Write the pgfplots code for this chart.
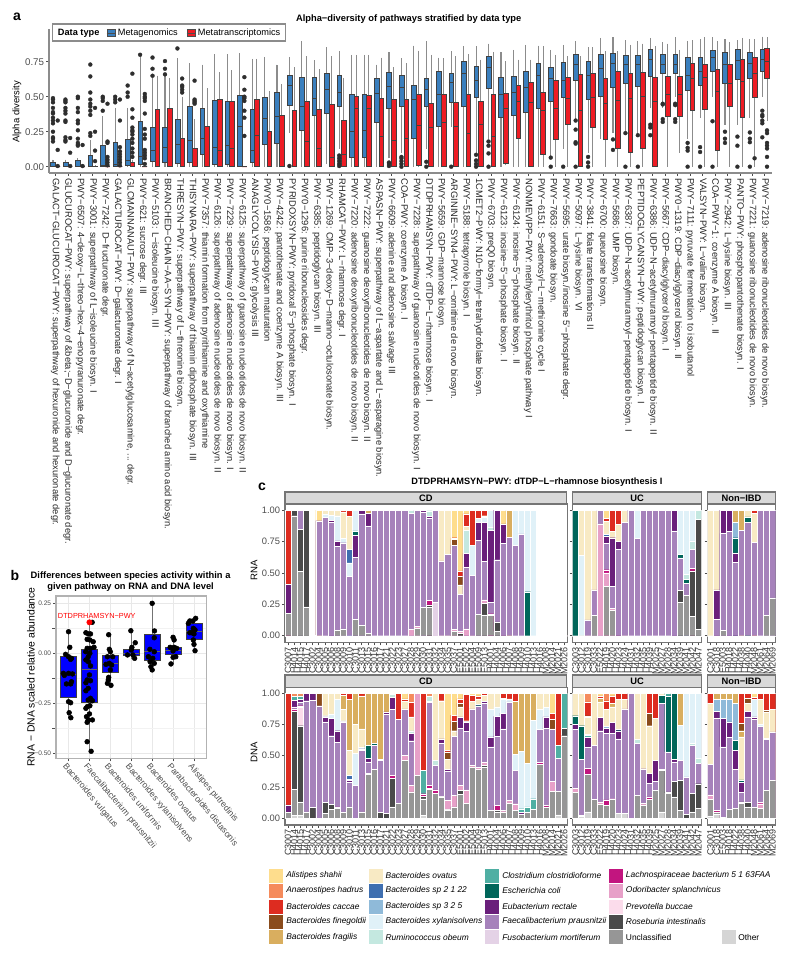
\documentclass[border=0pt]{standalone}
\usepackage{fontspec}
\setmainfont{Liberation Sans}
\usepackage{pgfplots}
\usepackage{pgfplotstable}
\pgfplotsset{compat=1.18}
\usepgfplotslibrary{statistics}
\newcommand\fs[1]{\fontsize{#1}{#1}\selectfont}
\definecolor{mg}{HTML}{3A7FBE}\definecolor{mt}{HTML}{ED1C24}
\definecolor{wh}{HTML}{8C8C8C}\definecolor{tk}{HTML}{4D4D4D}\definecolor{fr}{HTML}{757575}\definecolor{dot}{HTML}{2E2E2E}
% species, in stack order from the top: 1 A.shahii 2 Anaerostipes 3 caccae 4 finegoldii 5 fragilis 6 ovatus 7 sp2122 8 sp325 9 xylanisolvens 10 obeum 11 Clostridium 12 E.coli 13 Eubacterium 14 Faecalibacterium 15 Fusobacterium 16 Lachno 17 Odoribacter 18 Prevotella 19 Roseburia 20 Unclassified 21 Other
\definecolor{sp1}{HTML}{FEDD8D}\definecolor{sp2}{HTML}{F58B5C}\definecolor{sp3}{HTML}{DD2C20}\definecolor{sp4}{HTML}{8A4B1C}
\definecolor{sp5}{HTML}{D9AE5F}\definecolor{sp6}{HTML}{F8EAC4}\definecolor{sp7}{HTML}{3F6FB0}\definecolor{sp8}{HTML}{8FBAD9}
\definecolor{sp9}{HTML}{E0F1F8}\definecolor{sp10}{HTML}{C4E8E0}\definecolor{sp11}{HTML}{4FAFA3}\definecolor{sp12}{HTML}{00665A}
\definecolor{sp13}{HTML}{6A1F7B}\definecolor{sp14}{HTML}{A682BB}\definecolor{sp15}{HTML}{E4D2E6}\definecolor{sp16}{HTML}{C2157F}
\definecolor{sp17}{HTML}{E7A0C8}\definecolor{sp18}{HTML}{FBDCEB}\definecolor{sp19}{HTML}{4A4A4A}\definecolor{sp20}{HTML}{969696}\definecolor{sp21}{HTML}{D5D5D5}
\pgfplotsset{
 seg/.style={ybar,bar width=1,bar shift=0pt,draw=white,line width=.25pt},
 fac/.style={anchor=south west,scale only axis,ymin=-.056,ymax=1.048,axis line style={draw=fr,line width=.9pt},
   tick style={draw=tk,line width=.4pt},major tick length=2pt,tick align=outside,xtick pos=bottom,ytick pos=left,
   ytick={0,.25,.5,.75,1},yticklabels={0.00,0.25,0.50,0.75,1.00},
   yticklabel style={font=\fs{7},text=tk,inner sep=1.5pt},
   xticklabel style={rotate=90,anchor=east,font=\fs{6.8},text=black!80,inner sep=1pt}},
 cdl/.style={xtick={1,...,46},xticklabels={C3007,H4014,H4015,H4017,C3002,C3004,C3005,C3006,C3008,C3009,C3010,C3011,C3013,C3015,C3016,C3017,C3021,C3022,C3023,C3027,C3028,C3029,C3030,C3031,C3032,C3034,C3035,C3037,E5001,E5002,E5004,E5009,E5013,H4001,H4004,H4006,H4007,H4008,H4009,H4010,H4013,H4016,M2008,M2014,M2021,M2026}},
 ucl/.style={xtick={1,...,21},xticklabels={C3003,C3012,C3019,C3033,E5022,H4019,H4020,H4023,H4024,H4031,H4032,H4035,H4039,M2025,M2027,M2028,M2034,M2039,M2041,M2042,M2047}},
 nil/.style={xtick={1,...,11},xticklabels={C3001,C3018,E5003,H4018,H4022,H4038,H4040,M2048,M2061,M2064,M2069}}
}
\newcommand\segs[1]{\pgfplotsinvokeforeach{1,...,21}{\addplot[seg,fill=sp##1,restrict expr to domain={\thisrow{n}}{##1:##1}] table[x=i,y=t] {#1};}}
\newcommand\bx[7]{\addplot[fill=#7,draw=black!75,line width=.35pt,boxplot prepared={draw position=#1,lower whisker=#2,lower quartile=#3,median=#4,upper quartile=#5,upper whisker=#6}] coordinates {};}
\newcommand\B[6]{\bx{#1}{#2}{#3}{#4}{#5}{#6}{mg}}
\newcommand\R[6]{\bx{#1}{#2}{#3}{#4}{#5}{#6}{mt}}
\pgfplotstableread[row sep=\\]{c v\\
1 .18\\1 .2\\1 .21\\1 .25\\1 .31\\1 .33\\1 .35\\1 .38\\1 .39\\1 .42\\1 .46\\1 .48\\1 .49\\
2 .18\\2 .19\\2 .21\\2 .32\\2 .33\\2 .38\\2 .40\\2 .42\\2 .46\\2 .47\\2 .48\\
3 .15\\3 .16\\3 .17\\3 .2\\3 .26\\3 .31\\3 .33\\3 .39\\3 .42\\3 .49\\3 .5\\
4 .22\\4 .24\\4 .37\\4 .4\\4 .43\\4 .45\\4 .48\\4 .53\\4 .645\\4 .73\\
5 .4\\5 .47\\5 .49\\5 .5\\6 .46\\6 .48\\6 .5\\7 .5\\7 .53\\7 .58\\8 .8\\
9 .65\\9 .7\\9 .78\\10 .66\\10 .7\\10 .755\\11 .845\\20 .005\\
24 .005\\24 .02\\24 .04\\24 .06\\24 .08\\28 .005\\28 .02\\28 .03\\
29 .0\\29 .02\\29 .04\\29 .06\\29 .07\\31 .0\\31 .035\\33 .0\\
35 .0\\35 .02\\35 .045\\35 .085\\36 .0\\36 .095\\36 .15\\36 .18\\
41 .0\\41 .065\\42 .0\\43 .0\\43 .165\\43 .175\\43 .265\\43 .33\\44 .0\\44 .03\\44 .07\\
46 .12\\46 .195\\47 .0\\47 .24\\48 .0\\48 .225\\49 .225\\49 .28\\49 .3\\
50 .32\\50 .34\\50 .445\\50 .45\\51 .32\\51 .34\\51 .44\\51 .45\\
52 .0\\52 .115\\52 .135\\52 .17\\53 .0\\53 .105\\53 .14\\54 .0\\54 .325\\
55 .17\\55 .2\\55 .25\\56 .0\\56 .15\\56 .215\\57 .0\\57 .175\\57 .2\\57 .245\\
58 .21\\58 .31\\58 .33\\58 .36\\58 .37\\58 .4\\}\outB
\pgfplotstableread[row sep=\\]{c v\\
1 .005\\1 .12\\1 .33\\2 .005\\2 .10\\2 .205\\3 .005\\3 .155\\4 .04\\4 .115\\4 .25\\4 .42\\
5 .01\\5 .03\\5 .05\\5 .07\\5 .17\\5 .18\\5 .45\\6 .01\\6 .03\\6 .05\\6 .07\\6 .09\\6 .11\\6 .14\\6 .33\\6 .48\\
7 .07\\7 .1\\7 .13\\7 .17\\7 .2\\7 .23\\7 .25\\7 .26\\7 .28\\7 .35\\7 .41\\7 .665\\
8 .02\\8 .06\\8 .08\\8 .1\\8 .12\\8 .2\\8 .23\\8 .27\\8 .38\\8 .47\\8 .49\\8 .5\\8 .52\\
11 .53\\11 .55\\11 .57\\11 .58\\11 .63\\12 .45\\12 .46\\12 .47\\12 .48\\12 .615\\
16 .22\\16 .35\\16 .4\\16 .47\\16 .49\\16 .5\\16 .55\\16 .64\\57 .06\\
58 .0\\58 .07\\58 .13\\58 .15\\58 .17\\58 .24\\58 .26\\}\outR
% ---- panel c tables: sample i, species n, top t of the species' segment in the stack
\pgfplotstableread[row sep=\\]{i n t\\
1 20 .18\\1 13 .41\\1 3 1\\2 20 .955\\2 19 1\\3 20 .51\\3 19 .845\\3 14 1\\4 20 .23\\4 19 1\\5 17 .005\\
6 14 .915\\6 1 1\\7 14 .94\\7 9 .97\\7 6 1\\8 14 .9\\8 13 .92\\8 9 .96\\8 6 1\\
9 20 .04\\9 14 .71\\9 13 .755\\9 9 .955\\9 6 1\\10 20 .055\\10 14 .74\\10 9 .775\\10 6 .985\\10 3 1\\
11 14 .47\\11 9 .58\\11 7 .69\\11 6 .95\\11 3 1\\12 20 .13\\12 14 .625\\12 13 .8\\12 12 .835\\12 9 1\\
13 20 .08\\13 14 .97\\13 13 1\\14 20 .02\\14 14 .875\\14 13 .975\\14 5 1\\
15 14 1\\16 14 1\\17 14 1\\18 14 1\\19 14 1\\20 14 1\\
21 17 .05\\21 14 .975\\21 10 1\\22 20 .06\\22 17 .075\\22 14 1\\23 20 .225\\23 14 .985\\23 13 1\\
24 20 .225\\24 19 .245\\24 16 .28\\24 14 .935\\24 13 .95\\24 10 .995\\24 2 1\\25 15 .265\\25 14 1\\
26 14 .595\\26 6 1\\27 14 .65\\27 6 1\\28 20 .035\\28 17 .05\\28 14 .72\\28 4 .765\\28 3 .78\\28 1 1\\
29 19 .02\\29 17 .035\\29 14 .33\\29 6 .405\\29 4 .47\\29 3 .515\\29 1 1\\
30 17 .055\\30 14 .545\\30 13 .655\\30 10 .84\\30 6 .87\\30 3 .97\\30 1 1\\31 14 .48\\31 9 .72\\31 3 1\\
32 20 .17\\32 14 .76\\32 13 .9\\32 9 .935\\32 3 1\\33 20 .165\\33 19 .26\\33 17 .285\\33 14 .59\\33 13 .9\\33 9 .94\\33 6 .955\\33 3 1\\
34 20 .16\\34 16 .175\\34 14 .265\\34 13 .84\\34 10 .86\\34 9 1\\35 20 .035\\35 19 .11\\35 14 .605\\35 13 1\\
36 14 .735\\36 13 .89\\36 1 1\\37 14 .785\\37 5 1\\38 14 .72\\38 9 1\\39 14 .81\\39 9 1\\40 12 .35\\40 9 1\\41 9 1\\
42 17 .005\\43 17 .005\\44 17 .005\\45 17 .005\\46 17 .005\\}\tRC
\pgfplotstableread[row sep=\\]{i n t\\
1 12 1\\2 9 .64\\2 6 1\\3 14 .125\\3 6 1\\4 20 .16\\4 14 .365\\4 6 1\\5 17 .89\\5 14 1\\
6 20 .395\\6 17 .5\\6 16 .525\\6 14 .735\\6 13 .79\\6 7 .81\\6 6 .91\\6 3 .935\\6 1 1\\
7 20 .2\\7 17 .22\\7 14 .395\\7 13 .78\\7 6 .83\\7 3 1\\8 14 .69\\8 13 .75\\8 6 .885\\8 3 1\\
9 14 .905\\9 6 1\\10 14 1\\11 14 .775\\11 9 1\\12 14 1\\13 14 1\\14 14 1\\15 14 1\\16 14 1\\17 14 .835\\17 13 1\\
18 20 .265\\18 19 .36\\18 14 .62\\18 12 .65\\18 9 1\\19 20 .32\\19 14 .415\\19 12 .45\\19 10 .49\\19 9 1\\
20 20 .155\\20 19 .515\\20 16 .535\\20 14 .69\\20 10 .755\\20 9 1\\21 20 .05\\21 19 .925\\21 10 1\\}\tRU
\pgfplotstableread[row sep=\\]{i n t\\
1 6 1\\2 14 .13\\2 13 .365\\2 6 1\\3 20 .04\\3 14 .815\\3 13 1\\4 14 .83\\4 13 1\\
5 14 .585\\5 13 .66\\5 12 .78\\5 8 .9\\5 5 1\\6 14 .84\\6 5 1\\7 14 .9\\7 12 .945\\7 6 1\\
8 14 .745\\8 6 .975\\8 3 1\\9 14 1\\10 20 .16\\10 14 1\\11 20 .3\\11 14 1\\}\tRN
\pgfplotstableread[row sep=\\]{i n t\\
1 20 .045\\1 13 .105\\1 3 1\\2 21 .02\\2 20 .23\\2 19 .855\\2 16 .875\\2 14 .89\\2 13 .945\\2 11 .975\\2 2 1\\
3 21 .02\\3 20 .13\\3 19 .74\\3 18 .89\\3 16 .9\\3 14 .93\\3 13 .95\\3 11 .98\\3 2 1\\4 20 .05\\4 14 .94\\4 13 1\\
5 19 .085\\5 14 .945\\5 13 1\\6 14 .9\\6 4 1\\7 20 .04\\7 19 .125\\7 14 .77\\7 13 .81\\7 9 .82\\7 6 1\\
8 20 .07\\8 19 .11\\8 14 .66\\8 13 .8\\8 9 .835\\8 6 1\\9 20 .08\\9 16 .09\\9 14 .605\\9 13 .7\\9 9 .95\\9 6 1\\
10 20 .05\\10 14 .77\\10 9 .78\\10 6 .87\\10 5 .985\\10 3 1\\11 20 .09\\11 14 .285\\11 13 .3\\11 9 .31\\11 7 .34\\11 6 .54\\11 5 .95\\11 3 1\\
12 14 .26\\12 9 .52\\12 6 .75\\12 5 1\\13 20 .05\\13 14 .54\\13 13 .555\\13 9 .565\\13 6 .715\\13 5 .98\\13 3 1\\
14 20 .35\\14 16 .36\\14 14 .45\\14 13 .48\\14 12 .585\\14 5 1\\15 20 .39\\15 14 .585\\15 12 .6\\15 5 1\\
16 19 .045\\16 14 .46\\16 13 .47\\16 5 1\\17 19 .04\\17 14 .83\\17 13 .85\\17 5 1\\
18 20 .09\\18 19 .32\\18 16 .34\\18 14 .87\\18 13 .965\\18 10 .99\\18 9 1\\19 20 .12\\19 14 .79\\19 3 1\\
20 20 .46\\20 17 .5\\20 14 .875\\20 6 .935\\20 3 .955\\20 1 1\\21 20 .21\\21 17 .26\\21 14 .62\\21 13 .68\\21 10 .7\\21 6 .81\\21 3 .925\\21 2 1\\
22 20 .34\\22 17 1\\23 21 .02\\23 20 .155\\23 19 .175\\23 16 .195\\23 11 .38\\23 3 1\\
24 20 .23\\24 19 .24\\24 16 .26\\24 14 .925\\24 12 .935\\24 10 .975\\24 2 1\\25 20 .2\\25 16 .225\\25 14 .42\\25 10 .46\\25 6 1\\
26 20 .17\\26 16 .175\\26 14 .6\\26 13 .635\\26 6 .94\\26 3 1\\27 20 .065\\27 19 .07\\27 17 .14\\27 14 .375\\27 13 .39\\27 6 .47\\27 4 .53\\27 3 .54\\27 1 1\\
28 20 .09\\28 17 .18\\28 14 .655\\28 6 .7\\28 4 .775\\28 3 .825\\28 1 1\\29 20 .19\\29 19 .22\\29 17 .26\\29 14 .72\\29 13 .81\\29 6 .89\\29 4 .92\\29 3 .955\\29 1 1\\
30 20 .12\\30 17 .225\\30 14 .695\\30 13 .77\\30 6 .78\\30 3 .99\\30 1 1\\31 20 .41\\31 17 .42\\31 14 .875\\31 6 .935\\31 3 .985\\31 1 1\\
32 20 .39\\32 17 .405\\32 14 .9\\32 12 .91\\32 6 .955\\32 3 .98\\32 1 1\\33 20 .41\\33 19 .425\\33 17 .445\\33 14 .92\\33 13 .935\\33 6 .985\\33 3 1\\
34 20 .06\\34 14 .57\\34 13 .65\\34 9 .87\\34 6 1\\35 20 .05\\35 19 .06\\35 16 .1\\35 14 .655\\35 13 .815\\35 9 .89\\35 6 1\\
36 20 .05\\36 17 .06\\36 14 .715\\36 13 .84\\36 9 .95\\36 6 .96\\36 3 1\\37 20 .12\\37 17 .14\\37 14 .93\\37 9 .955\\37 3 1\\
38 20 .06\\38 17 .115\\38 14 .38\\38 9 .51\\38 5 .935\\38 3 1\\39 20 .03\\39 13 .045\\39 11 .075\\39 9 .535\\39 5 1\\
40 20 .05\\40 11 .09\\40 9 .44\\40 5 1\\41 20 .07\\41 11 .155\\41 9 .785\\41 5 1\\42 20 .43\\42 16 .445\\42 14 .71\\42 9 .87\\42 6 1\\
43 20 .09\\43 16 .1\\43 14 .72\\43 13 .81\\43 9 .885\\43 6 1\\44 20 .215\\44 17 .295\\44 14 .715\\44 4 .79\\44 3 .84\\44 1 1\\
45 21 .025\\45 20 .215\\45 14 .48\\45 11 .58\\45 3 1\\46 20 .66\\46 19 .72\\46 11 1\\}\tDC
\pgfplotstableread[row sep=\\]{i n t\\
1 20 .205\\1 17 .24\\1 14 .71\\1 13 .75\\1 12 .82\\1 6 1\\2 21 .015\\2 20 .02\\2 14 .47\\2 12 .74\\2 6 1\\
3 21 .05\\3 20 .35\\3 16 .4\\3 14 .565\\3 13 .645\\3 11 .665\\3 9 .67\\3 6 .81\\3 4 .82\\3 3 .93\\3 2 1\\4 20 .15\\4 14 .58\\4 6 1\\
5 20 .11\\5 17 .13\\5 14 .7\\5 13 .805\\5 6 .93\\5 5 .96\\5 3 .98\\5 1 1\\6 20 .1\\6 16 .145\\6 14 .68\\6 13 .72\\6 8 .74\\6 6 .87\\6 3 .94\\6 2 1\\
7 20 .15\\7 17 .155\\7 14 .68\\7 13 .765\\7 6 .89\\7 5 .92\\7 3 .98\\7 1 1\\8 21 .04\\8 14 .635\\8 13 .7\\8 12 .71\\8 6 .95\\8 3 1\\
9 21 .04\\9 14 .875\\9 6 .95\\9 3 1\\10 14 1\\11 20 .18\\11 14 .6\\11 10 .63\\11 6 1\\12 20 .105\\12 17 .12\\12 14 .395\\12 6 1\\
13 20 .15\\13 16 .17\\13 14 .28\\13 13 .36\\13 6 .74\\13 4 .84\\13 3 1\\14 20 .22\\14 14 .295\\14 13 .465\\14 6 .8\\14 3 1\\
15 21 .05\\15 20 .38\\15 19 .39\\15 14 .92\\15 12 .985\\15 6 1\\16 20 .2\\16 19 .21\\16 14 .53\\16 12 .98\\16 11 1\\
17 20 .17\\17 19 .295\\17 14 .45\\17 13 .47\\17 12 1\\18 20 .06\\18 19 .3\\18 14 .46\\18 9 .745\\18 5 1\\
19 19 .03\\19 14 .33\\19 9 1\\20 20 .05\\20 19 .2\\20 14 .58\\20 10 .6\\20 9 1\\21 20 .08\\21 19 .275\\21 14 .44\\21 10 .48\\21 9 1\\}\tDU
\pgfplotstableread[row sep=\\]{i n t\\
1 21 .015\\1 20 .15\\1 17 .185\\1 14 .43\\1 6 .92\\1 3 1\\2 21 .03\\2 20 .05\\2 16 .06\\2 14 .8\\2 13 .855\\2 8 .95\\2 5 1\\
3 16 .005\\3 14 .57\\3 13 .8\\3 8 .95\\3 5 1\\4 20 .07\\4 14 .645\\4 13 .77\\4 8 .95\\4 5 1\\
5 20 .08\\5 14 .39\\5 13 .54\\5 12 .625\\5 8 .92\\5 5 1\\6 20 .12\\6 19 .13\\6 14 .205\\6 13 .285\\6 12 .305\\6 6 .65\\6 5 .7\\6 4 .76\\6 3 1\\
7 20 .09\\7 19 .125\\7 14 .81\\7 13 .855\\7 6 .92\\7 4 .96\\7 3 1\\8 20 .09\\8 14 .79\\8 13 .81\\8 9 .95\\8 3 .97\\8 1 1\\
9 20 .08\\9 17 .115\\9 16 .125\\9 14 .735\\9 9 .75\\9 6 .95\\9 3 1\\10 20 .22\\10 14 .63\\10 13 .64\\10 6 .85\\10 4 .865\\10 3 1\\
11 20 .3\\11 14 .69\\11 6 .87\\11 3 1\\}\tDN
\begin{document}
\begin{tikzpicture}
\useasboundingbox (0,0) rectangle (600pt,-716.25pt);
% ================= panel a
\begin{axis}[at={(49*.75pt,-173*.75pt)},anchor=south west,scale only axis,width=542.25pt,height=108pt,
 xmin=.49,xmax=58.59,ymin=-.045,ymax=.984,
 axis x line*=bottom,axis y line*=left,axis line style={draw=wh,line width=.9pt,-},
 tick style={draw=tk,line width=.4pt},major tick length=2pt,tick align=outside,
 ytick={0,.25,.5,.75},yticklabels={0.00,0.25,0.50,0.75},yticklabel style={font=\fs{7.3},text=tk,inner sep=1.5pt},
 xtick={1,...,58},
 xticklabel style={rotate=-90,anchor=west,font=\fs{7},text=black!85,inner sep=0pt,xshift=2pt},
 xticklabels={{GALACT−GLUCUROCAT−PWY: superpathway of hexuronide and hexuronate degr.},{GLUCUROCAT−PWY: superpathway of \&beta;−D−glucuronide and D−glucuronate degr.},{PWY−6507: 4−deoxy−L−threo−hex−4−enopyranuronate degr.},{PWY−3001: superpathway of L−isoleucine biosyn. I},{PWY−7242: D−fructuronate degr.},{GALACTUROCAT−PWY: D−galacturonate degr. I},{GLCMANNANAUT−PWY: superpathway of N−acetylglucosamine, .{}.{}. degr.},{PWY−621: sucrose degr. III},{PWY−5103: L−isoleucine biosyn. III},{BRANCHED−CHAIN−AA−SYN−PWY: superpathway of branched amino acid biosyn.},{THRESYN−PWY: superpathway of L−threonine biosyn.},{THISYNARA−PWY: superpathway of thiamin diphosphate biosyn. III},{PWY−7357: thiamin formation from pyrithiamine and oxythiamine},{PWY−6126: superpathway of adenosine nucleotides de novo biosyn. II},{PWY−7229: superpathway of adenosine nucleotides de novo biosyn. I},{PWY−6125: superpathway of guanosine nucleotides de novo biosyn. II},{ANAGLYCOLYSIS−PWY: glycolysis III},{PWY0−1586: peptidoglycan maturation},{PWY−4242: pantothenate and coenzyme A biosyn. III},{PYRIDOXSYN−PWY: pyridoxal 5'−phosphate biosyn. I},{PWY0−1296: purine ribonucleosides degr.},{PWY−6385: peptidoglycan biosyn. III},{PWY−1269: CMP−3−deoxy−D−manno−octulosonate biosyn.},{RHAMCAT−PWY: L−rhamnose degr. I},{PWY−7220: adenosine deoxyribonucleotides de novo biosyn. II},{PWY−7222: guanosine deoxyribonucleotides de novo biosyn. II},{ASPASN−PWY: superpathway of L−aspartate and L−asparagine biosyn.},{PWY−6609: adenine and adenosine salvage III},{COA−PWY: coenzyme A biosyn. I},{PWY−7228: superpathway of guanosine nucleotides de novo biosyn. I},{DTDPRHAMSYN−PWY: dTDP−L−rhamnose biosyn. I},{PWY−5659: GDP−mannose biosyn.},{ARGININE−SYN4−PWY: L−ornithine de novo biosyn.},{PWY−5188: tetrapyrrole biosyn. I},{1CMET2−PWY: N10−formyl−tetrahydrofolate biosyn.},{PWY−6703: preQ0 biosyn.},{PWY−6123: inosine−5'−phosphate biosyn. I},{PWY−6124: inosine−5'−phosphate biosyn. II},{NONMEVIPP−PWY: methylerythritol phosphate pathway I},{PWY−6151: S−adenosyl−L−methionine cycle I},{PWY−7663: gondoate biosyn.},{PWY−5695: urate biosyn./inosine 5'−phosphate degr.},{PWY−5097: L−lysine biosyn. VI},{PWY−3841: folate transformations II},{PWY−6700: queuosine biosyn.},{PWY−5686: UMP biosyn.},{PWY−6387: UDP−N−acetylmuramoyl−pentapeptide biosyn. I},{PEPTIDOGLYCANSYN−PWY: peptidoglycan biosyn. I},{PWY−6386: UDP−N−acetylmuramoyl−pentapeptide biosyn. II},{PWY−5667: CDP−diacylglycerol biosyn. I},{PWY0−1319: CDP−diacylglycerol biosyn. II},{PWY−7111: pyruvate fermentation to isobutanol},{VALSYN−PWY: L−valine biosyn.},{COA−PWY−1: coenzyme A biosyn. II},{PWY−2942: L−lysine biosyn. III},{PANTO−PWY: phosphopantothenate biosyn. I},{PWY−7221: guanosine ribonucleotides de novo biosyn.},{PWY−7219: adenosine ribonucleotides de novo biosyn.}},
 boxplot/draw direction=y,boxplot/box extend=.375,boxplot/whisker extend=0,
 boxplot/every whisker/.style={draw=wh,line width=.8pt},boxplot/every median/.style={draw=black!75,line width=.5pt},
]
\addplot[only marks,mark=*,mark size=1.5pt,mark options={fill=dot,draw=dot,line width=.2pt}] table[x expr=\thisrow{c}-.19,y=v] {\outB};
\addplot[only marks,mark=*,mark size=1.5pt,mark options={fill=dot,draw=dot,line width=.2pt}] table[x expr=\thisrow{c}+.19,y=v] {\outR};
\B{0.81}{0}{0}{.005}{.03}{.05}\R{1.19}{0}{0}{0}{0}{0}
\B{1.81}{0}{0}{.005}{.03}{.05}\R{2.19}{0}{0}{0}{0}{0}
\B{2.81}{0}{0}{.005}{.045}{.06}\R{3.19}{0}{0}{0}{0}{0}
\B{3.81}{0}{0}{.005}{.085}{.19}\R{4.19}{0}{0}{0}{.005}{.01}
\B{4.81}{0}{0}{.01}{.155}{.36}\R{5.19}{0}{0}{0}{0}{0}
\B{5.81}{0}{0}{.02}{.175}{.42}\R{6.19}{0}{0}{0}{0}{0}
\B{6.81}{0}{.01}{.045}{.195}{.42}\R{7.19}{0}{0}{0}{.03}{.05}
\B{7.81}{0}{.02}{.075}{.325}{.8}\R{8.19}{0}{0}{0}{0}{0}
\B{8.81}{0}{.04}{.12}{.285}{.65}\R{9.19}{0}{0}{0}{.41}{.65}
\B{9.81}{0}{.035}{.14}{.285}{.66}\R{10.19}{0}{0}{0}{.42}{.635}
\B{10.81}{0}{.025}{.16}{.34}{.775}\R{11.19}{0}{0}{0}{.205}{.5}
\B{11.81}{0}{.035}{.19}{.43}{.74}\R{12.19}{0}{0}{0}{.135}{.34}
\B{12.81}{0}{.09}{.205}{.42}{.73}\R{13.19}{0}{0}{0}{.29}{.56}
\B{13.81}{0}{.02}{.14}{.475}{.805}\R{14.19}{0}{0}{.12}{.48}{.675}
\B{14.81}{0}{.02}{.15}{.47}{.805}\R{15.19}{0}{0}{.13}{.47}{.69}
\B{15.81}{0}{0}{.285}{.51}{.81}\R{16.19}{0}{0}{0}{0}{0}
\B{16.81}{0}{.03}{.115}{.41}{.77}\R{17.19}{0}{0}{.225}{.485}{.77}
\B{17.81}{0}{.16}{.345}{.495}{.785}\R{18.19}{0}{0}{0}{.25}{.54}
\B{18.81}{0}{.17}{.36}{.53}{.73}\R{19.19}{0}{0}{0}{.365}{.59}
\B{19.81}{.24}{.44}{.58}{.655}{.785}\R{20.19}{0}{0}{0}{.405}{.71}
\B{20.81}{0}{.26}{.43}{.64}{.895}\R{21.19}{0}{0}{.18}{.47}{.79}
\B{21.81}{0}{.37}{.49}{.64}{.76}\R{22.19}{0}{0}{.13}{.41}{.695}
\B{22.81}{.02}{.385}{.555}{.665}{.855}\R{23.19}{0}{0}{.07}{.45}{.79}
\B{23.81}{.13}{.43}{.535}{.655}{.825}\R{24.19}{0}{0}{.09}{.33}{.635}
\B{24.81}{0}{.07}{.255}{.515}{.8}\R{25.19}{0}{0}{.42}{.505}{.8}
\B{25.81}{0}{.07}{.26}{.515}{.8}\R{26.19}{0}{0}{.42}{.51}{.8}
\B{26.81}{0}{.32}{.525}{.63}{.73}\R{27.19}{0}{0}{.22}{.49}{.78}
\B{27.81}{.06}{.415}{.575}{.675}{.82}\R{28.19}{0}{0}{.185}{.485}{.71}
\B{28.81}{.1}{.435}{.57}{.655}{.775}\R{29.19}{0}{0}{.2}{.485}{.74}
\B{29.81}{0}{.205}{.48}{.58}{.865}\R{30.19}{0}{.01}{.295}{.515}{.83}
\B{30.81}{.13}{.43}{.555}{.635}{.895}\R{31.19}{0}{0}{.28}{.455}{.8}
\B{31.81}{0}{.29}{.515}{.685}{.78}\R{32.19}{0}{0}{.315}{.52}{.775}
\B{32.81}{.285}{.46}{.605}{.665}{.825}\R{33.19}{0}{0}{.285}{.46}{.79}
\B{33.81}{0}{.435}{.67}{.755}{.86}\R{34.19}{0}{0}{.24}{.515}{.805}
\B{34.81}{.1}{.5}{.615}{.72}{.86}\R{35.19}{0}{0}{.3}{.465}{.765}
\B{35.81}{.2}{.56}{.71}{.79}{.88}\R{36.19}{0}{0}{.215}{.52}{.82}
\B{36.81}{0}{.35}{.515}{.64}{.82}\R{37.19}{.01}{.025}{.42}{.525}{.755}
\B{37.81}{0}{.37}{.53}{.645}{.835}\R{38.19}{0}{.2}{.465}{.58}{.765}
\B{38.81}{0}{.39}{.565}{.685}{.87}\R{39.19}{0}{0}{.46}{.605}{.765}
\B{39.81}{0}{.415}{.65}{.74}{.865}\R{40.19}{0}{.09}{.4}{.53}{.86}
\B{40.81}{.07}{.47}{.635}{.71}{.835}\R{41.19}{0}{.195}{.42}{.615}{.8}
\B{41.81}{.13}{.495}{.62}{.745}{.87}\R{42.19}{0}{.3}{.49}{.64}{.79}
\B{42.81}{.33}{.62}{.73}{.805}{.895}\R{43.19}{0}{0}{.4}{.66}{.79}
\B{43.81}{.1}{.485}{.655}{.755}{.855}\R{44.19}{0}{.285}{.495}{.665}{.855}
\B{44.81}{.2}{.505}{.7}{.805}{.92}\R{45.19}{0}{.195}{.455}{.635}{.825}
\B{45.81}{.24}{.565}{.74}{.81}{.925}\R{46.19}{0}{.135}{.475}{.685}{.825}
\B{46.81}{.24}{.6}{.735}{.795}{.905}\R{47.19}{0}{.1}{.49}{.665}{.87}
\B{47.81}{.22}{.575}{.73}{.8}{.895}\R{48.19}{0}{.135}{.505}{.675}{.88}
\B{48.81}{.42}{.645}{.765}{.84}{.92}\R{49.19}{0}{0}{.47}{.64}{.86}
\B{49.81}{.42}{.665}{.735}{.805}{.89}\R{50.19}{0}{.36}{.52}{.65}{.88}
\B{50.81}{.5}{.665}{.735}{.805}{.925}\R{51.19}{.1}{.36}{.52}{.65}{.835}
\B{51.81}{.2}{.545}{.65}{.78}{.9}\R{52.19}{0}{.405}{.63}{.74}{.905}
\B{52.81}{.35}{.58}{.685}{.78}{.91}\R{53.19}{0}{.41}{.64}{.735}{.925}
\B{53.81}{.5}{.685}{.78}{.835}{.925}\R{54.19}{0}{.12}{.54}{.695}{.895}
\B{54.81}{.3}{.6}{.735}{.82}{.91}\R{55.19}{0}{.43}{.595}{.735}{.89}
\B{55.81}{.3}{.625}{.76}{.84}{.905}\R{56.19}{0}{.35}{.61}{.765}{.92}
\B{56.81}{.35}{.63}{.74}{.82}{.91}\R{57.19}{0}{.495}{.67}{.78}{.91}
\B{57.81}{.5}{.68}{.77}{.84}{.93}\R{58.19}{.33}{.63}{.75}{.845}{.925}
\end{axis}
% ================= panel b
\begin{axis}[at={(56*.75pt,-758.7*.75pt)},anchor=south west,scale only axis,width=112.9pt,height=122pt,
 xmin=.4,xmax=7.6,ymin=-.527,ymax=.2865,
 axis line style={draw=black!30,line width=1pt},
 tick style={draw=tk,line width=.4pt},major tick length=2pt,tick align=outside,xtick pos=bottom,ytick pos=left,
 ytick={-.5,-.25,0,.25},yticklabels={−0.50,−0.25,0.00,0.25},yticklabel style={font=\fs{4.9},text=tk,inner sep=1.5pt},
 minor ytick={-.375,-.125,.125},xtick={1,...,7},
 grid=both,major grid style={draw=black!9,line width=.4pt},minor grid style={draw=black!5,line width=.25pt},
 xticklabels={Bacteroides vulgatus,Faecalibacterium prausnitzii,Bacteroides uniformis,Bacteroides xylanisolvens,Bacteroides ovatus,Parabacteroides distasonis,Alistipes putredinis},
 xticklabel style={rotate=-50,anchor=north west,font=\fs{6.5},text=tk,inner sep=0pt,xshift=0pt,yshift=-1pt},
 boxplot/draw direction=y,boxplot/box extend=.75,boxplot/whisker extend=0,
 boxplot/every whisker/.style={draw=black!55,line width=.7pt},boxplot/every median/.style={draw=black!60,line width=.5pt},
]
\bx{1}{-.325}{-.22}{-.105}{-.017}{.105}{blue}
\bx{2}{-.49}{-.247}{-.08}{.02}{.155}{blue}
\bx{3}{-.16}{-.095}{-.05}{-.01}{.09}{blue}
\bx{4}{-.03}{-.012}{0}{.022}{.11}{blue}
\bx{5}{-.08}{-.035}{.01}{.097}{.25}{blue}
\bx{6}{-.055}{-.005}{.015}{.03}{.075}{blue}
\bx{7}{.01}{.073}{.11}{.152}{.17}{blue}
\addplot[only marks,mark=*,mark size=1.8pt,mark options={fill=black,draw=black}] coordinates {
(1,.108)(1.06,.03)(.86,-.005)(1,-.017)(1.14,-.025)(1.1,-.03)(.75,-.1)(1,-.1)(1.19,-.103)(.8,-.11)(1.14,-.142)(.9,-.153)(1.1,-.153)(1,-.242)(1.1,-.247)(1.03,-.297)(1.11,-.322)
(2.13,.155)(1.83,.103)(1.95,.097)(2.05,.097)(1.89,.07)(2.02,.067)(2.18,.058)(1.89,.025)(2.05,.025)(2.22,.03)(1.82,.008)(2.02,0)(1.94,-.017)(1.83,-.033)(1.95,-.042)(2.05,-.063)(2,-.108)(1.89,-.133)(1.83,-.147)(2.05,-.137)(1.94,-.175)(1.83,-.187)(2.05,-.225)(1.94,-.233)(2.14,-.237)(1.89,-.267)(2.02,-.262)(1.83,-.275)(2,-.303)(1.86,-.317)(1.94,-.333)(2.14,-.333)(1.89,-.345)(1.89,-.442)(2.08,-.49)
(2.92,.093)(2.95,.02)(3,.008)(2.86,-.017)(3.11,-.017)(2.95,-.05)(2.79,-.055)(3.06,-.058)(3,-.083)(2.92,-.12)(2.9,-.133)(2.86,-.15)(3.03,-.16)
(3.98,.113)(4.19,.053)(4.03,.03)(4,.017)(3.82,-.008)(4.08,-.008)(4.16,-.025)
(5,.25)(5.11,.112)(5.1,.078)(4.89,.02)(5.1,.008)(4.82,-.017)(5.03,-.025)(4.9,-.042)(5.1,-.05)(4.94,-.067)(5,-.083)
(6,.08)(6.05,.067)(5.86,.03)(6.05,.03)(6.17,.025)(6,.012)(6.13,-.017)(6,-.02)(5.9,-.053)
(7.08,.175)(6.8,.162)(6.95,.162)(6.73,.15)(6.97,.125)(7.05,.117)(6.89,.103)(6.8,.103)(7,.097)(6.97,.067)(7,.045)(7.05,.013)};
\addplot[only marks,mark=*,mark size=2pt,mark options={fill=red,draw=red}] coordinates {(2,.155)};
\node[text=red,font=\fs{5.5},inner sep=0pt] at (axis cs:2.35,.188) {DTDPRHAMSYN−PWY};
\end{axis}
% ================= panel c
\begin{axis}[fac,cdl,at={(285*.75pt,-642.7*.75pt)},width=211.75pt,height=104pt,xmin=.5,xmax=46.5]\segs{\tRC}\end{axis}
\begin{axis}[fac,ucl,at={(572.3*.75pt,-642.7*.75pt)},width=97pt,height=104pt,xmin=.5,xmax=21.5,yticklabels={}]\segs{\tRU}\end{axis}
\begin{axis}[fac,nil,at={(707.3*.75pt,-642.7*.75pt)},width=51.3pt,height=104pt,xmin=.5,xmax=11.5,yticklabels={}]\segs{\tRN}\end{axis}
\begin{axis}[fac,cdl,at={(285*.75pt,-825*.75pt)},width=211.75pt,height=103.3pt,xmin=.5,xmax=46.5]\segs{\tDC}\end{axis}
\begin{axis}[fac,ucl,at={(572.3*.75pt,-825*.75pt)},width=97pt,height=103.3pt,xmin=.5,xmax=21.5,yticklabels={}]\segs{\tDU}\end{axis}
\begin{axis}[fac,nil,at={(707.3*.75pt,-825*.75pt)},width=51.3pt,height=103.3pt,xmin=.5,xmax=11.5,yticklabels={}]\segs{\tDN}\end{axis}
% ================= annotations, in reference pixels
\begin{scope}[x=.75pt,y=-.75pt]
\node[font=\bfseries\fs{10.5},inner sep=0pt] at (17,17) {a};
\node[font=\bfseries\fs{10.5},inner sep=0pt] at (15,575) {b};
\node[font=\bfseries\fs{10.5},inner sep=0pt] at (262,487) {c};
\node[font=\bfseries\fs{7},inner sep=0pt] at (408.7,18.7) {Alpha−diversity of pathways stratified by data type};
\node[rotate=90,font=\fs{7.1},inner sep=0pt] at (17,112) {Alpha diversity};
\draw[draw=wh,fill=white,line width=.8pt] (52.3,24) rectangle (285.7,41);
\node[anchor=west,font=\bfseries\fs{6.9},inner sep=0pt] at (57.7,33) {Data type};
\draw[fill=mg,draw=black!70,line width=.3pt] (106.7,29.3) rectangle (115,36.7);
\draw[draw=black!70,line width=.3pt] (106.7,33) -- (115,33);
\node[anchor=west,font=\fs{6.9},inner sep=0pt] at (117.7,33) {Metagenomics};
\draw[fill=mt,draw=black!70,line width=.3pt] (186.7,29.3) rectangle (195,36.7);
\draw[draw=black!70,line width=.3pt] (186.7,33) -- (195,33);
\node[anchor=west,font=\fs{6.9},inner sep=0pt] at (197.7,33) {Metatranscriptomics};
\node[font=\bfseries\fs{7},inner sep=0pt] at (130.6,575.7) {Differences between species activity within a};
\node[font=\bfseries\fs{7},inner sep=0pt] at (130.6,587.3) {given pathway on RNA and DNA level};
\node[rotate=90,font=\fs{7.8},inner sep=0pt] at (31,677) {RNA − DNA scaled relative abundance};
\node[font=\bfseries\fs{6.9},inner sep=0pt] at (537,482) {DTDPRHAMSYN−PWY: dTDP−L−rhamnose biosynthesis I};
\node[rotate=90,font=\fs{7.2},inner sep=0pt] at (254,570) {RNA};
\node[rotate=90,font=\fs{7.2},inner sep=0pt] at (254,752.7) {DNA};
\foreach \xa/\xb/\n in {285/566.7/CD,572.3/701.7/UC,707.3/775.7/Non−IBD}{
 \draw[fill=black!15,draw=fr,line width=.9pt] (\xa,492) rectangle (\xb,504);
 \node[font=\bfseries\fs{7},inner sep=0pt] at ({(\xa+\xb)/2},498) {\n};
 \draw[fill=black!15,draw=fr,line width=.9pt] (\xa,675) rectangle (\xb,687.3);
 \node[font=\bfseries\fs{7},inner sep=0pt] at ({(\xa+\xb)/2},681) {\n};
}
\foreach \x/\y/\c/\t in {269.3/875.7/sp1/Alistipes shahii,269.3/890.7/sp2/Anaerostipes hadrus,269.3/906.7/sp3/Bacteroides caccae,269.3/921.7/sp4/Bacteroides finegoldii,269.3/937.3/sp5/Bacteroides fragilis,
 368.7/875.7/sp6/Bacteroides ovatus,368.7/890.7/sp7/Bacteroides sp 2 1 22,368.7/906.7/sp8/Bacteroides sp 3 2 5,368.7/921.7/sp9/Bacteroides xylanisolvens,368.7/937.3/sp10/Ruminococcus obeum,
 485.3/875.7/sp11/Clostridium clostridioforme,485.3/890.7/sp12/Escherichia coli,485.3/906.7/sp13/Eubacterium rectale,485.3/921.7/sp14/Faecalibacterium prausnitzii,485.3/937.3/sp15/Fusobacterium mortiferum,
 609/875.7/sp16/Lachnospiraceae bacterium 5 1 63FAA,609/890.7/sp17/Odoribacter splanchnicus,609/906.7/sp18/Prevotella buccae,609/921.7/sp19/Roseburia intestinalis}{
 \fill[fill=\c] (\x,\y-7) rectangle (\x+14,\y+7);
 \node[anchor=west,font=\itshape\fs{6.3},inner sep=0pt] at (\x+16.7,\y) {\t};
}
\fill[sp20] (609,930.3) rectangle (623,944.3);
\node[anchor=west,font=\fs{6.3},inner sep=0pt] at (625.7,937.3) {Unclassified};
\fill[sp21] (721.7,930.3) rectangle (735.7,944.3);
\node[anchor=west,font=\fs{6.3},inner sep=0pt] at (738,937.3) {Other};
\end{scope}
\end{tikzpicture}
\end{document}
